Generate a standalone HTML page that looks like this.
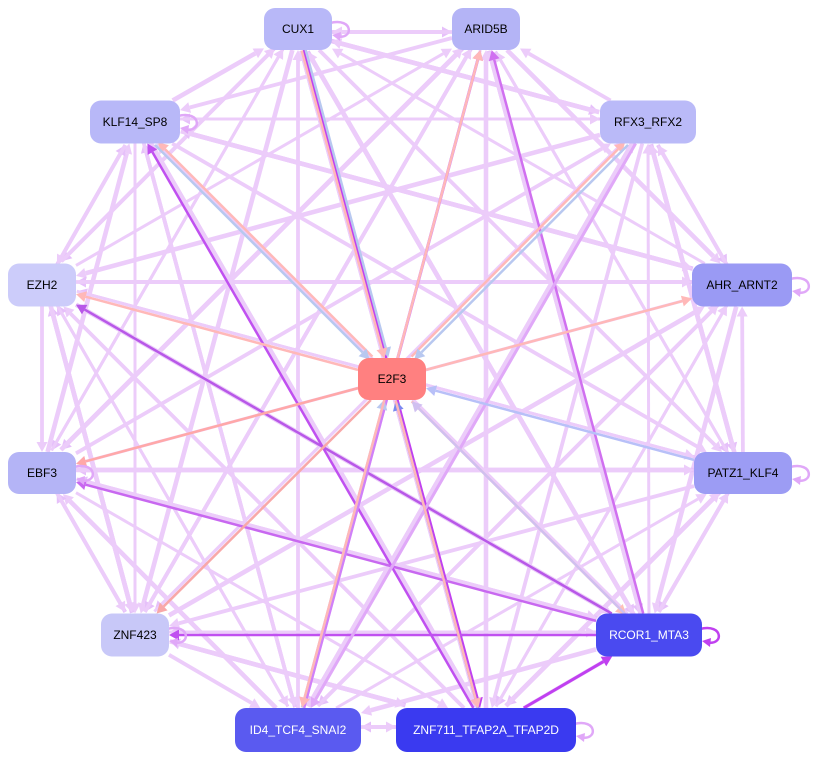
<!DOCTYPE html>
<html><head><meta charset="utf-8"><style>
html,body{margin:0;padding:0;background:#fff;}
svg{display:block}
text{font-family:"Liberation Sans",Arial,sans-serif;font-size:12px;text-anchor:middle;dominant-baseline:central}
</style></head><body>
<svg id="s" width="824" height="760" viewBox="0 0 824 760" xmlns="http://www.w3.org/2000/svg">
<g id="edges"></g><g id="nodes"></g>
</svg>
<script>
const N={
CUX1:[298,29,68,42,'#b8b8f8','#000'],
ARID5B:[486,29,68,42,'#b4b4f6','#000'],
KLF14_SP8:[135,122,90,43,'#b8b8f8','#000'],
RFX3_RFX2:[648,122,96,43,'#babaf8','#000'],
EZH2:[42,285,68,43,'#ccccfa','#000'],
AHR_ARNT2:[742,285,100,43,'#9a9af4','#000'],
E2F3:[392,379,68,42,'#ff8080','#000'],
EBF3:[42,473,68,42,'#b4b4f6','#000'],
PATZ1_KLF4:[743,473,98,42,'#9c9cf4','#000'],
ZNF423:[135,635,68,43,'#c8c8f8','#000'],
RCOR1_MTA3:[649,635,106,43,'#4a4af0','#fff'],
ID4_TCF4_SNAI2:[298,730,126,44,'#5a5af0','#fff'],
ZNF711_TFAP2A_TFAP2D:[486,730,180,44,'#3a3af0','#fff']};
const NS='http://www.w3.org/2000/svg';
const E=document.getElementById('edges'),G=document.getElementById('nodes');
function el(t,a,p){const e=document.createElementNS(NS,t);for(const k in a)e.setAttribute(k,a[k]);p.appendChild(e);return e;}
function bnd(n,dx,dy){const[x,y,w,h]=N[n];const sx=Math.abs(dx)>1e-6?(w/2)/Math.abs(dx):1e9,sy=Math.abs(dy)>1e-6?(h/2)/Math.abs(dy):1e9;const s=Math.min(sx,sy);return[x+dx*s,y+dy*s];}
function edge(a,b,c,w,off){const A=N[a],B=N[b];let dx=B[0]-A[0],dy=B[1]-A[1];const L=Math.hypot(dx,dy);dx/=L;dy/=L;off=off||0;const px=-dy*off,py=dx*off;
let s=bnd(a,dx,dy),t=bnd(b,-dx,-dy);s=[s[0]+px,s[1]+py];t=[t[0]+px,t[1]+py];
const ah=10,aw=5.5;const bx=t[0]-dx*ah,by=t[1]-dy*ah;
el('line',{x1:s[0],y1:s[1],x2:bx,y2:by,stroke:c,'stroke-width':w},E);
el('polygon',{points:`${t[0]},${t[1]} ${bx-dy*aw},${by+dx*aw} ${bx+dy*aw},${by-dx*aw}`,fill:c},E);}
const P=['CUX1','ARID5B','RFX3_RFX2','AHR_ARNT2','PATZ1_KLF4','RCOR1_MTA3','ZNF711_TFAP2A_TFAP2D','ID4_TCF4_SNAI2','ZNF423','EBF3','EZH2','KLF14_SP8'];
const L1='#ecccfa',L2='#e6c0fa';
for(let i=0;i<P.length;i++)for(let j=i+1;j<P.length;j++){const k=(i*7+j*3)%4;const w=3+((i*5+j)%3)*0.8;
if(k==0)edge(P[i],P[j],L1,w,0);else if(k==1)edge(P[j],P[i],L1,w,0);else{edge(P[i],P[j],L2,w,3);edge(P[j],P[i],L1,w,-3);}}
const sp=[['CUX1','ZNF711_TFAP2A_TFAP2D','#c040f0',2.5],['RCOR1_MTA3','ARID5B','#d070f0',2.5],['ZNF711_TFAP2A_TFAP2D','KLF14_SP8','#c050f0',2.5],['RCOR1_MTA3','EZH2','#b858e8',2.5],['RCOR1_MTA3','ZNF423','#c050f0',2.5],['ZNF711_TFAP2A_TFAP2D','RCOR1_MTA3','#c040f0',3],['RCOR1_MTA3','EBF3','#c868f0',2.5],['ID4_TCF4_SNAI2','ARID5B','#d080f8',3],['RFX3_RFX2','ID4_TCF4_SNAI2','#e0a8f8',3]];
sp.forEach(e=>edge(e[0],e[1],e[2],e[3],0));
const ce=[['CUX1','E2F3','#b8c8f0',-2],['CUX1','E2F3','#ffb8b8',2],['E2F3','ARID5B','#ffb8b8',0],['E2F3','KLF14_SP8','#ffb8b8',2],['KLF14_SP8','E2F3','#b8c8f0',2],['E2F3','RFX3_RFX2','#ffb8b8',-2],['RFX3_RFX2','E2F3','#b8c8f0',-2],['E2F3','EZH2','#ffb8b8',0],['E2F3','AHR_ARNT2','#ffb8b8',0],['E2F3','EBF3','#ffa8a8',0],['PATZ1_KLF4','E2F3','#b8c0f8',0],['E2F3','ZNF423','#f8a8a8',0],['E2F3','RCOR1_MTA3','#ffc0b8',2],['RCOR1_MTA3','E2F3','#d0c0f0',-2],['ID4_TCF4_SNAI2','E2F3','#b8c8f0',-2],['E2F3','ID4_TCF4_SNAI2','#ffb8b8',2],['ZNF711_TFAP2A_TFAP2D','E2F3','#7a8af0',-2],['E2F3','ZNF711_TFAP2A_TFAP2D','#ffb8b8',2]];
ce.forEach(e=>edge(e[0],e[1],e[2],2.5,e[3]));
function loop(n,c){const[x,y,w,h]=N[n];const r=x+w/2;
el('path',{d:`M${r-2},${y-6} C${r+22},${y-12} ${r+22},${y+12} ${r+4},${y+7}`,fill:'none',stroke:c,'stroke-width':2.5},E);
el('polygon',{points:`${r},${y+6} ${r+9},${y+3} ${r+8},${y+12}`,fill:c},E);}
['CUX1','KLF14_SP8','AHR_ARNT2','EBF3','ZNF423','PATZ1_KLF4','ZNF711_TFAP2A_TFAP2D'].forEach(n=>loop(n,'#e0a8f8'));
loop('RCOR1_MTA3','#c040f0');
for(const n in N){const[x,y,w,h,f,tc]=N[n];el('rect',{x:x-w/2,y:y-h/2,width:w,height:h,rx:11,fill:f},G);const t=el('text',{x:x,y:y,fill:tc},G);t.textContent=n;}
</script>
</body></html>
